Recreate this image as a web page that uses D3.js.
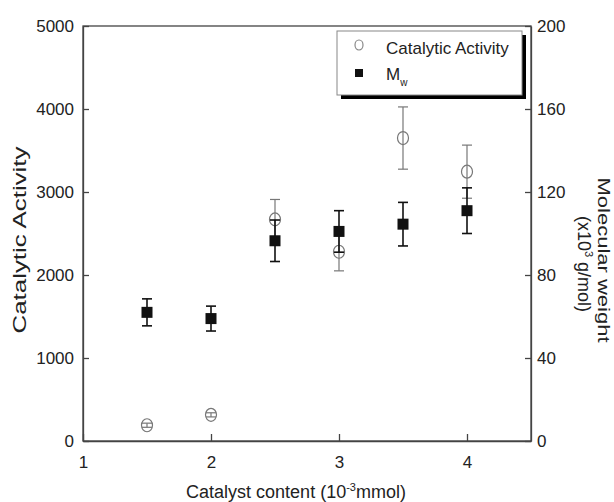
<!DOCTYPE html>
<html>
<head>
<meta charset="utf-8">
<script src="https://cdn.jsdelivr.net/npm/d3@7/dist/d3.min.js"></script>
<style>
  body { margin: 0; background: #fff; }
  svg text { font-family: "Liberation Sans", Arial, sans-serif; fill: #222; }
</style>
</head>
<body>
<svg id="chart" width="614" height="502"></svg>
<script>
// ---- Data ----
const catalystContent = [1.5, 2, 2.5, 3, 3.5, 4];
const catalyticActivity = [190, 315, 2670, 2280, 3650, 3245];
const catalyticActivityErr = [25, 25, 240, 230, 375, 320];
const molecularWeight = [62, 59, 96.5, 101, 104.5, 111];
const molecularWeightErr = [6.5, 6, 10, 10, 10.5, 11];
const xTicks = [1, 2, 3, 4];
const yLeftTicks = [0, 1000, 2000, 3000, 4000, 5000];
const yRightTicks = [0, 40, 80, 120, 160, 200];

// ---- Layout ----
const svg = d3.select("#chart");
const L = 83, R = 531, T = 26, B = 441;
const x = d3.scaleLinear().domain([1, 4.5]).range([L, R]);
const yL = d3.scaleLinear().domain([0, 5000]).range([B, T]);
const yR = d3.scaleLinear().domain([0, 200]).range([B, T]);
const axisColor = "#444";

// frame
svg.append("rect").attr("x", L).attr("y", T).attr("width", R - L).attr("height", B - T)
  .attr("fill", "none").attr("stroke", axisColor).attr("stroke-width", 1.3);

// axes (inward ticks)
const fs = "17px";
const gx = svg.append("g").attr("transform", `translate(0,${B})`)
  .call(d3.axisBottom(x).tickValues(xTicks).tickFormat(d3.format("d")).tickSizeInner(-7).tickSizeOuter(0).tickPadding(15));
const gyl = svg.append("g").attr("transform", `translate(${L},0)`)
  .call(d3.axisLeft(yL).tickValues(yLeftTicks).tickFormat(d3.format("d")).tickSizeInner(-6).tickSizeOuter(0).tickPadding(9));
const gyr = svg.append("g").attr("transform", `translate(${R},0)`)
  .call(d3.axisRight(yR).tickValues(yRightTicks).tickFormat(d3.format("d")).tickSizeInner(-6).tickSizeOuter(0).tickPadding(6));
[gx, gyl, gyr].forEach(g => {
  g.select(".domain").attr("stroke", axisColor).attr("stroke-width", 1.3);
  g.selectAll(".tick line").attr("stroke", axisColor).attr("stroke-width", 1.3);
  g.selectAll(".tick text").attr("font-size", fs).attr("fill", "#222")
    .style("font-family", "'Liberation Sans', Arial, sans-serif");
});

// axis titles
const xt = svg.append("text").attr("x", 296).attr("y", 498).attr("text-anchor", "middle").attr("font-size", "18px");
xt.append("tspan").text("Catalyst content (10");
xt.append("tspan").attr("dy", -7).attr("font-size", "11px").text("-3");
xt.append("tspan").attr("dy", 7).text("mmol)");

svg.append("text").attr("transform", "translate(26,240) rotate(-90)")
  .attr("text-anchor", "middle").attr("font-size", "18px")
  .attr("textLength", 187).attr("lengthAdjust", "spacingAndGlyphs")
  .text("Catalytic Activity");

svg.append("text").attr("transform", "translate(598,260) rotate(90)")
  .attr("text-anchor", "middle").attr("font-size", "17px")
  .attr("textLength", 165).attr("lengthAdjust", "spacingAndGlyphs")
  .text("Molecular weight");

const rt = svg.append("text").attr("transform", "translate(578,264) rotate(90)")
  .attr("text-anchor", "middle").attr("font-size", "18px");
rt.append("tspan").text("(x10");
rt.append("tspan").attr("dy", -7).attr("font-size", "11px").text("3");
rt.append("tspan").attr("dy", 7).text(" g/mol)");

// ---- Error bars + markers ----
const capW = 5;
function errorBars(vals, errs, yScale, color, width) {
  const g = svg.append("g").attr("stroke", color).attr("stroke-width", width).attr("fill", "none");
  catalystContent.forEach((c, i) => {
    const cx = x(c), y1 = yScale(vals[i] + errs[i]), y0 = yScale(vals[i] - errs[i]);
    g.append("line").attr("x1", cx).attr("x2", cx).attr("y1", y1).attr("y2", y0);
    g.append("line").attr("x1", cx - capW).attr("x2", cx + capW).attr("y1", y1).attr("y2", y1);
    g.append("line").attr("x1", cx - capW).attr("x2", cx + capW).attr("y1", y0).attr("y2", y0);
  });
}

// catalytic activity (open grey circles)
errorBars(catalyticActivity, catalyticActivityErr, yL, "#777", 1.2);
svg.append("g").selectAll("ellipse").data(catalystContent).join("ellipse")
  .attr("cx", d => x(d)).attr("cy", (d, i) => yL(catalyticActivity[i]))
  .attr("rx", 5.5).attr("ry", 6.5)
  .attr("fill", "none").attr("stroke", "#777").attr("stroke-width", 1.2);

// Mw (black squares)
errorBars(molecularWeight, molecularWeightErr, yR, "#111", 1.6);
const sq = 11;
svg.append("g").selectAll("rect").data(catalystContent).join("rect")
  .attr("x", d => x(d) - sq / 2).attr("y", (d, i) => yR(molecularWeight[i]) - sq / 2)
  .attr("width", sq).attr("height", sq).attr("fill", "#111");

// ---- Legend ----
const lg = svg.append("g");
lg.append("rect").attr("x", 341).attr("y", 35).attr("width", 185).attr("height", 64).attr("fill", "#000");
lg.append("rect").attr("x", 337).attr("y", 31).attr("width", 185).attr("height", 64)
  .attr("fill", "#fff").attr("stroke", "#888").attr("stroke-width", 1);
lg.append("ellipse").attr("cx", 359).attr("cy", 45).attr("rx", 4).attr("ry", 5)
  .attr("fill", "none").attr("stroke", "#888").attr("stroke-width", 1.2);
lg.append("text").attr("x", 386).attr("y", 54).attr("font-size", "17px").text("Catalytic Activity");
lg.append("rect").attr("x", 355).attr("y", 69).attr("width", 8).attr("height", 8).attr("fill", "#111");
const mt = lg.append("text").attr("x", 386).attr("y", 80).attr("font-size", "17px");
mt.append("tspan").text("M");
mt.append("tspan").attr("dy", 6).attr("font-size", "10px").text("w");
</script>
</body>
</html>
